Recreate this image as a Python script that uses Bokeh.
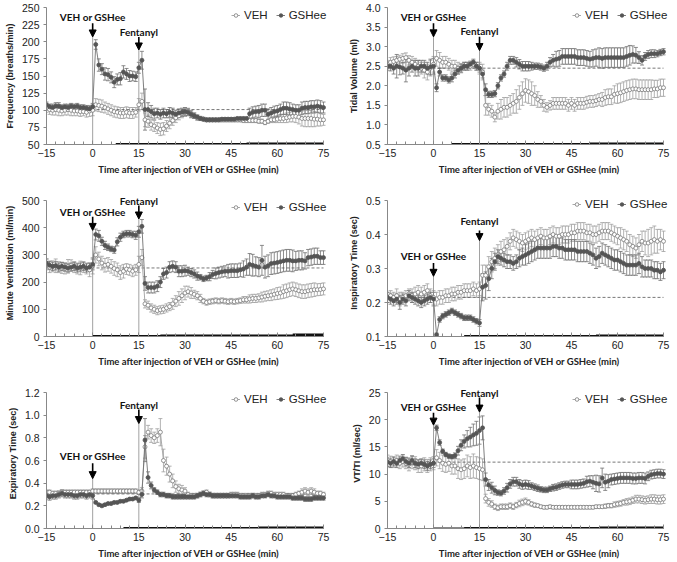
from bokeh.plotting import figure
from bokeh.models import (ColumnDataSource, Whisker, TeeHead, Arrow, NormalHead, Legend,
                          LegendItem, Range1d, FixedTicker, Label)
from bokeh.layouts import column, row
from bokeh.embed import file_html
from bokeh.resources import INLINE

TIME = list(range(-15, 76))
X_TICKS = [-15, 0, 15, 30, 45, 60, 75]
X_LABEL = "Time after injection of VEH or GSHee (min)"

# ---------------- Frequency ----------------
freq_veh = [103, 101, 100, 101, 100, 99, 100, 101, 100, 99, 99, 98, 98, 97, 99,
            100, 108, 107, 106, 104, 102, 100, 98, 97, 96, 96, 97, 96, 96, 97, 108,
            113, 86, 84, 79, 77, 74, 72, 73, 77, 81, 85, 89, 92, 95, 97,
            98, 95, 92, 89, 88, 87, 86, 86, 86, 86, 86, 86, 86, 86, 86,
            86, 86, 86, 85, 85, 85, 85, 85, 84, 84, 82, 84, 86, 86, 87,
            88, 88, 89, 90, 91, 91, 90, 88, 88, 88, 88, 87, 87, 86, 86]
freq_veh_err = [6, 7, 7, 8, 8, 7, 7, 8, 8, 7, 7, 7, 6, 7, 8,
                8, 9, 9, 9, 8, 8, 8, 8, 8, 8, 8, 8, 8, 8, 7, 9,
                12, 10, 9, 8, 8, 8, 9, 9, 8, 8, 7, 7, 6, 6, 6,
                5, 5, 4, 4, 3, 3, 3, 3, 3, 3, 3, 3, 3, 3, 3,
                3, 3, 3, 3, 3, 3, 3, 3, 3, 3, 3, 3, 4, 4, 5,
                6, 6, 7, 7, 8, 9, 10, 11, 12, 12, 12, 11, 10, 9, 8]
freq_gsh = [108, 105, 104, 106, 106, 104, 105, 104, 106, 105, 106, 104, 104, 103, 102,
            105, 196, 166, 160, 153, 152, 148, 141, 145, 146, 156, 153, 150, 150, 149, 162,
            173, 101, 101, 98, 95, 96, 94, 96, 95, 97, 96, 94, 96, 97, 98,
            97, 94, 92, 90, 88, 87, 86, 86, 86, 86, 86, 87, 87, 87, 87,
            87, 88, 88, 88, 88, 95, 97, 98, 98, 100, 100, 94, 96, 98, 99,
            101, 103, 103, 102, 101, 100, 100, 103, 104, 104, 105, 105, 106, 105, 104]
freq_gsh_err = [4, 4, 5, 5, 5, 4, 4, 4, 4, 4, 4, 4, 4, 4, 4,
                5, 7, 9, 8, 9, 9, 8, 8, 8, 9, 9, 8, 8, 7, 7, 8,
                13, 30, 10, 9, 8, 7, 7, 7, 6, 7, 7, 6, 6, 6, 6,
                5, 5, 4, 3, 3, 2, 2, 2, 2, 2, 2, 2, 2, 2, 2,
                2, 2, 2, 2, 2, 8, 8, 8, 9, 9, 9, 8, 8, 8, 8,
                8, 9, 9, 9, 8, 8, 8, 9, 9, 9, 9, 9, 9, 9, 8]

# ---------------- Tidal volume ----------------
tv_veh = [2.55, 2.6, 2.62, 2.65, 2.68, 2.7, 2.72, 2.65, 2.6, 2.55, 2.5, 2.45, 2.4, 2.35, 2.45,
          2.55, 2.7, 2.65, 2.6, 2.6, 2.55, 2.5, 2.5, 2.45, 2.45, 2.5, 2.5, 2.5, 2.55, 2.5, 2.45,
          2.35, 1.5, 1.4, 1.35, 1.2, 1.35, 1.4, 1.45, 1.45, 1.5, 1.55, 1.6, 1.7, 1.8, 1.88,
          1.85, 1.8, 1.75, 1.65, 1.6, 1.5, 1.45, 1.5, 1.55, 1.55, 1.55, 1.55, 1.55, 1.5, 1.55,
          1.5, 1.55, 1.55, 1.55, 1.58, 1.6, 1.6, 1.62, 1.65, 1.65, 1.7, 1.72, 1.72, 1.78, 1.8,
          1.82, 1.85, 1.88, 1.9, 1.92, 1.92, 1.9, 1.9, 1.9, 1.9, 1.9, 1.92, 1.92, 1.95, 1.95]
tv_veh_err = [0.1, 0.12, 0.12, 0.1, 0.1, 0.12, 0.12, 0.12, 0.15, 0.15, 0.15, 0.15, 0.2, 0.2, 0.2,
              0.2, 0.2, 0.2, 0.15, 0.15, 0.15, 0.15, 0.15, 0.15, 0.12, 0.1, 0.1, 0.1, 0.1, 0.1, 0.15,
              0.2, 0.25, 0.15, 0.15, 0.12, 0.2, 0.25, 0.25, 0.25, 0.25, 0.25, 0.3, 0.3, 0.3, 0.3,
              0.3, 0.3, 0.25, 0.2, 0.15, 0.15, 0.12, 0.12, 0.15, 0.15, 0.15, 0.15, 0.15, 0.15, 0.15,
              0.15, 0.15, 0.15, 0.15, 0.15, 0.15, 0.15, 0.15, 0.15, 0.18, 0.2, 0.2, 0.2, 0.22, 0.25,
              0.25, 0.25, 0.25, 0.25, 0.25, 0.25, 0.25, 0.25, 0.25, 0.25, 0.25, 0.22, 0.22, 0.22, 0.22]
tv_gsh = [2.5, 2.5, 2.45, 2.5, 2.48, 2.45, 2.4, 2.45, 2.5, 2.45, 2.45, 2.5, 2.5, 2.45, 2.48,
          2.5, 1.95, 2.35, 2.2, 2.2, 2.15, 2.2, 2.3, 2.4, 2.45, 2.5, 2.5, 2.55, 2.6, 2.5, 2.45,
          2.3, 1.9, 1.78, 1.78, 1.8, 2.0, 2.2, 2.3, 2.5, 2.65, 2.65, 2.6, 2.55, 2.5, 2.5,
          2.5, 2.5, 2.5, 2.5, 2.48, 2.45, 2.5, 2.6, 2.65, 2.68, 2.7, 2.75, 2.75, 2.75, 2.75,
          2.75, 2.72, 2.72, 2.72, 2.7, 2.68, 2.7, 2.72, 2.72, 2.7, 2.72, 2.72, 2.72, 2.72, 2.72,
          2.72, 2.72, 2.75, 2.78, 2.8, 2.78, 2.72, 2.65, 2.75, 2.8, 2.82, 2.82, 2.82, 2.85, 2.87]
tv_gsh_err = [0.1, 0.12, 0.15, 0.3, 0.2, 0.15, 0.3, 0.2, 0.15, 0.2, 0.2, 0.15, 0.15, 0.15, 0.2,
              0.2, 0.1, 0.1, 0.08, 0.08, 0.08, 0.1, 0.1, 0.1, 0.1, 0.1, 0.1, 0.08, 0.08, 0.1, 0.1,
              0.1, 0.15, 0.08, 0.08, 0.08, 0.08, 0.08, 0.08, 0.1, 0.1, 0.1, 0.12, 0.12, 0.12, 0.12,
              0.12, 0.1, 0.08, 0.08, 0.08, 0.08, 0.1, 0.12, 0.15, 0.2, 0.2, 0.2, 0.2, 0.2, 0.2,
              0.2, 0.2, 0.2, 0.2, 0.2, 0.2, 0.22, 0.22, 0.25, 0.25, 0.25, 0.25, 0.25, 0.25, 0.25,
              0.25, 0.25, 0.25, 0.25, 0.22, 0.2, 0.15, 0.12, 0.1, 0.1, 0.1, 0.1, 0.08, 0.08, 0.08]

# ---------------- Minute ventilation ----------------
mv_veh = [265, 255, 258, 260, 255, 252, 250, 258, 262, 255, 250, 252, 255, 250, 245,
          260, 300, 285, 270, 262, 265, 258, 250, 245, 235, 240, 248, 245, 240, 245, 265,
          290, 120, 115, 105, 100, 95, 98, 100, 105, 110, 120, 130, 140, 150, 160,
          165, 160, 155, 150, 140, 130, 125, 128, 130, 132, 130, 132, 130, 128, 130,
          128, 130, 132, 135, 135, 138, 140, 140, 142, 145, 148, 150, 152, 155, 158,
          160, 165, 168, 172, 175, 172, 168, 165, 165, 168, 170, 172, 172, 173, 175]
mv_veh_err = [20, 20, 20, 25, 20, 20, 20, 25, 20, 20, 20, 25, 20, 20, 25,
              30, 30, 25, 25, 25, 25, 25, 25, 25, 25, 25, 20, 20, 20, 20, 30,
              30, 15, 15, 15, 15, 15, 15, 15, 15, 15, 20, 20, 25, 25, 25,
              20, 20, 15, 15, 15, 10, 10, 10, 10, 10, 10, 10, 10, 10, 10,
              10, 10, 10, 12, 12, 15, 15, 15, 15, 18, 18, 18, 20, 20, 22,
              22, 25, 25, 25, 25, 25, 25, 25, 25, 25, 25, 25, 22, 22, 22]
mv_gsh = [270, 262, 258, 260, 255, 258, 255, 252, 255, 258, 252, 255, 258, 252, 255,
          265, 375, 370, 350, 335, 328, 322, 318, 348, 365, 375, 378, 378, 375, 372, 385,
          405, 195, 180, 180, 180, 185, 200, 230, 235, 255, 258, 255, 240, 240, 242,
          240, 235, 230, 222, 218, 212, 215, 220, 228, 232, 235, 238, 240, 240, 242,
          242, 242, 245, 248, 255, 265, 262, 258, 255, 280, 255, 260, 268, 270, 272,
          275, 278, 280, 280, 278, 278, 280, 280, 278, 290, 292, 295, 295, 290, 290]
mv_gsh_err = [15, 15, 15, 15, 15, 15, 15, 15, 15, 15, 15, 15, 15, 15, 15,
              20, 20, 20, 15, 15, 12, 10, 12, 15, 15, 12, 12, 12, 12, 15, 20,
              25, 25, 20, 20, 20, 20, 20, 20, 20, 20, 20, 20, 20, 20, 20,
              15, 15, 15, 15, 10, 10, 10, 15, 15, 20, 20, 20, 20, 25, 25,
              25, 25, 25, 30, 30, 40, 40, 35, 35, 55, 40, 40, 40, 40, 40,
              40, 40, 40, 40, 40, 35, 35, 35, 30, 30, 30, 30, 30, 25, 25]

# ---------------- Inspiratory time ----------------
ti_veh = [0.215, 0.22, 0.215, 0.22, 0.21, 0.215, 0.22, 0.225, 0.22, 0.225, 0.23, 0.225, 0.23, 0.235, 0.22,
          0.215, 0.21, 0.215, 0.215, 0.22, 0.22, 0.225, 0.225, 0.23, 0.23, 0.235, 0.235, 0.235, 0.24, 0.235, 0.24,
          0.28, 0.28, 0.305, 0.32, 0.33, 0.34, 0.35, 0.355, 0.365, 0.38, 0.39, 0.385, 0.38, 0.375, 0.38,
          0.385, 0.39, 0.385, 0.39, 0.395, 0.39, 0.39, 0.395, 0.4, 0.395, 0.395, 0.4, 0.4, 0.4, 0.405,
          0.405, 0.41, 0.41, 0.41, 0.405, 0.405, 0.4, 0.4, 0.405, 0.41, 0.41, 0.41, 0.405, 0.4, 0.395,
          0.39, 0.385, 0.38, 0.37, 0.365, 0.36, 0.37, 0.38, 0.375, 0.375, 0.38, 0.385, 0.38, 0.385, 0.38]
ti_veh_err = [0.015, 0.015, 0.015, 0.02, 0.02, 0.015, 0.015, 0.015, 0.02, 0.02, 0.02, 0.02, 0.02, 0.02, 0.02,
              0.02, 0.02, 0.02, 0.02, 0.02, 0.02, 0.02, 0.02, 0.02, 0.02, 0.02, 0.02, 0.02, 0.02, 0.02, 0.02,
              0.03, 0.03, 0.03, 0.03, 0.03, 0.03, 0.03, 0.03, 0.025, 0.025, 0.025, 0.025, 0.025, 0.025, 0.025,
              0.025, 0.025, 0.025, 0.025, 0.025, 0.025, 0.025, 0.025, 0.025, 0.025, 0.025, 0.025, 0.025, 0.025, 0.025,
              0.025, 0.025, 0.025, 0.025, 0.025, 0.025, 0.025, 0.025, 0.025, 0.025, 0.025, 0.025, 0.025, 0.025, 0.025,
              0.03, 0.03, 0.03, 0.03, 0.03, 0.03, 0.03, 0.03, 0.035, 0.04, 0.04, 0.04, 0.035, 0.03, 0.03]
ti_gsh = [0.215, 0.21, 0.205, 0.21, 0.2, 0.21, 0.205, 0.22, 0.215, 0.21, 0.205, 0.2, 0.205, 0.21, 0.215,
          0.21, 0.105, 0.15, 0.16, 0.165, 0.17, 0.175, 0.17, 0.165, 0.16, 0.155, 0.155, 0.155, 0.15, 0.145, 0.14,
          0.245, 0.25, 0.27, 0.3, 0.32, 0.335, 0.33, 0.325, 0.32, 0.32, 0.315, 0.32, 0.33, 0.335, 0.34,
          0.345, 0.35, 0.355, 0.36, 0.36, 0.36, 0.36, 0.36, 0.365, 0.365, 0.36, 0.36, 0.355, 0.355, 0.355,
          0.355, 0.35, 0.35, 0.35, 0.35, 0.345, 0.34, 0.33, 0.335, 0.345, 0.34, 0.335, 0.33, 0.325, 0.325,
          0.32, 0.315, 0.31, 0.31, 0.31, 0.31, 0.315, 0.305, 0.3, 0.3, 0.3, 0.295, 0.295, 0.29, 0.295]
ti_gsh_err = [0.015, 0.015, 0.015, 0.015, 0.02, 0.015, 0.015, 0.015, 0.015, 0.015, 0.015, 0.015, 0.015, 0.015, 0.015,
              0.02, 0.005, 0.008, 0.008, 0.008, 0.008, 0.008, 0.008, 0.008, 0.008, 0.008, 0.008, 0.008, 0.008, 0.008, 0.01,
              0.04, 0.04, 0.035, 0.03, 0.025, 0.02, 0.02, 0.02, 0.02, 0.02, 0.02, 0.02, 0.025, 0.025, 0.03,
              0.03, 0.03, 0.03, 0.03, 0.03, 0.03, 0.03, 0.03, 0.03, 0.03, 0.03, 0.03, 0.03, 0.03, 0.03,
              0.03, 0.03, 0.03, 0.03, 0.03, 0.03, 0.03, 0.03, 0.03, 0.03, 0.03, 0.03, 0.03, 0.03, 0.03,
              0.03, 0.03, 0.03, 0.03, 0.03, 0.03, 0.03, 0.03, 0.025, 0.025, 0.025, 0.025, 0.025, 0.025, 0.025]

# ---------------- Expiratory time ----------------
te_veh = [0.32, 0.32, 0.31, 0.31, 0.31, 0.32, 0.32, 0.32, 0.32, 0.32, 0.32, 0.32, 0.32, 0.32, 0.32,
          0.33, 0.33, 0.33, 0.33, 0.33, 0.33, 0.33, 0.33, 0.33, 0.33, 0.33, 0.33, 0.33, 0.33, 0.33, 0.32,
          0.33, 0.72, 0.85, 0.82, 0.8, 0.82, 0.85, 0.6, 0.55, 0.48, 0.42, 0.37, 0.35, 0.34, 0.33,
          0.3, 0.29, 0.29, 0.29, 0.3, 0.31, 0.32, 0.3, 0.29, 0.29, 0.29, 0.29, 0.29, 0.29, 0.3,
          0.3, 0.3, 0.29, 0.29, 0.29, 0.29, 0.29, 0.29, 0.29, 0.3, 0.3, 0.31, 0.31, 0.3, 0.3,
          0.3, 0.3, 0.29, 0.29, 0.29, 0.3, 0.31, 0.32, 0.33, 0.32, 0.33, 0.32, 0.31, 0.31, 0.3]
te_veh_err = [0.02, 0.02, 0.02, 0.02, 0.02, 0.02, 0.02, 0.02, 0.02, 0.02, 0.02, 0.02, 0.02, 0.02, 0.02,
              0.02, 0.02, 0.02, 0.02, 0.02, 0.02, 0.02, 0.02, 0.02, 0.02, 0.02, 0.02, 0.02, 0.02, 0.02, 0.02,
              0.03, 0.1, 0.06, 0.06, 0.05, 0.06, 0.12, 0.1, 0.08, 0.07, 0.06, 0.05, 0.04, 0.04, 0.03,
              0.02, 0.02, 0.02, 0.02, 0.02, 0.02, 0.02, 0.02, 0.02, 0.02, 0.02, 0.02, 0.02, 0.02, 0.02,
              0.02, 0.02, 0.02, 0.02, 0.02, 0.02, 0.02, 0.02, 0.02, 0.02, 0.02, 0.02, 0.02, 0.02, 0.02,
              0.02, 0.02, 0.02, 0.02, 0.02, 0.02, 0.02, 0.03, 0.03, 0.03, 0.03, 0.03, 0.02, 0.02, 0.02]
te_gsh = [0.29, 0.28, 0.29, 0.29, 0.3, 0.31, 0.3, 0.3, 0.3, 0.29, 0.29, 0.3, 0.3, 0.29, 0.3,
          0.29, 0.23, 0.21, 0.2, 0.21, 0.22, 0.22, 0.23, 0.23, 0.24, 0.24, 0.25, 0.26, 0.26, 0.27, 0.25,
          0.3, 0.78, 0.45, 0.38, 0.34, 0.32, 0.3, 0.3, 0.29, 0.29, 0.28, 0.28, 0.28, 0.28, 0.28,
          0.28, 0.28, 0.28, 0.29, 0.3, 0.31, 0.3, 0.3, 0.29, 0.29, 0.29, 0.29, 0.29, 0.29, 0.29,
          0.29, 0.29, 0.28, 0.28, 0.28, 0.28, 0.29, 0.28, 0.28, 0.29, 0.29, 0.3, 0.29, 0.29, 0.28,
          0.28, 0.28, 0.28, 0.28, 0.27, 0.27, 0.27, 0.27, 0.26, 0.26, 0.26, 0.27, 0.27, 0.27, 0.27]
te_gsh_err = [0.03, 0.03, 0.03, 0.03, 0.03, 0.03, 0.03, 0.03, 0.03, 0.03, 0.03, 0.03, 0.03, 0.03, 0.03,
              0.03, 0.01, 0.01, 0.01, 0.01, 0.01, 0.01, 0.01, 0.01, 0.01, 0.01, 0.01, 0.01, 0.01, 0.01, 0.02,
              0.03, 0.19, 0.05, 0.03, 0.02, 0.02, 0.02, 0.02, 0.02, 0.02, 0.02, 0.02, 0.02, 0.02, 0.02,
              0.02, 0.02, 0.02, 0.02, 0.02, 0.02, 0.02, 0.02, 0.02, 0.02, 0.02, 0.02, 0.02, 0.02, 0.02,
              0.02, 0.02, 0.02, 0.02, 0.02, 0.02, 0.02, 0.02, 0.02, 0.02, 0.02, 0.02, 0.02, 0.02, 0.02,
              0.02, 0.02, 0.02, 0.02, 0.02, 0.02, 0.02, 0.02, 0.02, 0.02, 0.02, 0.02, 0.02, 0.02, 0.02]

# ---------------- VT/TI ----------------
vt_veh = [12.5, 12.3, 12.2, 12.5, 12.0, 12.3, 12.0, 11.8, 12.2, 12.0, 11.5, 11.5, 11.8, 11.5, 11.8,
          12.0, 13.0, 12.5, 12.0, 11.8, 12.0, 11.5, 11.5, 11.0, 10.8, 11.0, 11.5, 11.2, 11.5, 11.2, 11.0,
          10.8, 5.5, 4.8, 4.5, 4.0, 3.8, 4.0, 4.0, 4.0, 4.2, 4.0, 4.3, 4.6, 4.8, 5.0,
          4.8, 4.5, 4.3, 4.2, 4.0, 3.9, 3.9, 4.0, 3.9, 3.9, 3.9, 3.9, 3.9, 3.9, 3.9,
          3.9, 3.9, 3.9, 3.9, 3.9, 3.9, 3.9, 4.0, 4.0, 4.0, 4.1, 4.2, 4.2, 4.4, 4.5,
          4.6, 4.8, 4.9, 5.0, 5.2, 5.4, 5.4, 5.3, 5.2, 5.3, 5.4, 5.4, 5.3, 5.3, 5.4]
vt_veh_err = [1.0, 1.0, 1.0, 1.0, 1.0, 1.0, 1.0, 1.2, 1.2, 1.2, 1.2, 1.2, 1.2, 1.2, 1.2,
              1.2, 1.5, 1.5, 1.5, 1.5, 1.5, 1.5, 1.5, 1.8, 1.8, 1.8, 2.0, 2.0, 2.2, 2.0, 2.0,
              2.0, 0.8, 0.7, 0.6, 0.5, 0.5, 0.5, 0.5, 0.5, 0.5, 0.5, 0.5, 0.6, 0.6, 0.6,
              0.5, 0.4, 0.4, 0.3, 0.3, 0.3, 0.3, 0.3, 0.3, 0.3, 0.3, 0.3, 0.3, 0.3, 0.3,
              0.3, 0.3, 0.3, 0.3, 0.3, 0.3, 0.3, 0.3, 0.3, 0.3, 0.4, 0.4, 0.4, 0.5, 0.5,
              0.5, 0.5, 0.6, 0.6, 0.6, 0.7, 0.7, 0.7, 0.7, 0.7, 0.8, 0.8, 0.8, 0.8, 0.8]
vt_gsh = [12.2, 12.0, 12.3, 12.0, 12.5, 12.8, 12.3, 12.0, 12.5, 12.0, 11.8, 12.0, 11.8, 11.5, 11.8,
          12.0, 18.5, 15.8, 14.2, 13.6, 13.3, 13.2, 13.4, 14.3, 15.3, 16.0, 16.5, 16.8, 17.2, 17.5, 18.0,
          18.5, 9.0, 8.0, 7.5, 7.0, 6.6, 6.5, 6.9, 7.5, 8.2, 8.6, 8.6, 8.2, 8.0, 8.1,
          8.0, 7.8, 7.6, 7.4, 7.2, 7.1, 7.1, 7.3, 7.5, 7.6, 7.8, 8.0, 8.1, 8.1, 8.1,
          8.1, 8.1, 8.2, 8.3, 8.6, 8.7, 8.5, 8.3, 8.2, 9.3, 8.5, 8.7, 9.0, 9.1, 9.2,
          9.3, 9.3, 9.3, 9.3, 9.2, 9.2, 9.3, 9.3, 9.2, 9.6, 9.9, 10.0, 10.1, 10.1, 10.0]
vt_gsh_err = [0.8, 0.8, 0.8, 0.8, 0.8, 0.8, 0.8, 0.8, 0.8, 0.8, 0.8, 0.8, 0.8, 0.8, 0.8,
              0.8, 0.5, 0.5, 0.4, 0.4, 0.4, 0.4, 0.5, 0.8, 1.0, 1.2, 1.5, 1.8, 2.0, 2.2, 2.5,
              2.2, 1.2, 1.0, 1.0, 0.8, 0.5, 0.5, 0.6, 0.8, 0.8, 0.8, 0.8, 0.8, 0.8, 0.8,
              0.8, 0.6, 0.6, 0.6, 0.5, 0.5, 0.5, 0.5, 0.6, 0.6, 0.6, 0.6, 0.6, 0.6, 0.8,
              0.8, 0.8, 0.8, 0.8, 1.0, 1.0, 1.2, 1.5, 1.5, 1.8, 1.5, 1.2, 1.0, 1.0, 1.0,
              1.0, 1.0, 1.0, 1.0, 1.0, 1.0, 1.0, 1.0, 1.0, 0.8, 0.8, 0.8, 0.8, 0.8, 0.8]

# baselines (dashed) and significance bars along the time axis (start, end, visible px)
BASELINES = [101, 2.45, 252, 0.215, 0.305, 12.2]
SIG_BARS = [
    [(7.5, 75, 1.5), (50, 75, 2.0)],
    [(6, 75, 1.5), (51, 75, 2.0)],
    [(0, 75, 1.5), (22, 75, 2.0), (65, 75, 3.0)],
    [(10, 75, 1.5), (53, 75, 2.0)],
    [(10, 75, 1.5), (54, 75, 2.0)],
    [(0, 75, 1.0), (10, 75, 1.5), (54, 75, 2.0)],
]

PANELS = [
    dict(title="Frequency (breaths/min)", veh=freq_veh, veh_err=freq_veh_err, gsh=freq_gsh, gsh_err=freq_gsh_err,
         yr=(50, 250), yticks=[50, 75, 100, 125, 150, 175, 200, 225, 250],
         ylabels=["50", "75", "100", "125", "150", "175", "200", "225", "250"],
         veh_txt=236, veh_arrow=(227, 207), fen_txt=214, fen_arrow=(207, 188), leg_dy=8),
    dict(title="Tidal Volume (ml)", veh=tv_veh, veh_err=tv_veh_err, gsh=tv_gsh, gsh_err=tv_gsh_err,
         yr=(0.5, 4.0), yticks=[0.5, 1.0, 1.5, 2.0, 2.5, 3.0, 3.5, 4.0],
         ylabels=["0.5", "1.0", "1.5", "2.0", "2.5", "3.0", "3.5", "4.0"],
         veh_txt=3.76, veh_arrow=(3.6, 3.25), fen_txt=3.39, fen_arrow=(3.25, 2.9), leg_dy=8),
    dict(title="Minute Ventilation (ml/min)", veh=mv_veh, veh_err=mv_veh_err, gsh=mv_gsh, gsh_err=mv_gsh_err,
         yr=(0, 500), yticks=[0, 100, 200, 300, 400, 500],
         ylabels=["0", "100", "200", "300", "400", "500"],
         veh_txt=457, veh_arrow=(440, 390), fen_txt=500, fen_arrow=(482, 432), leg_dy=7),
    dict(title="Inspiratory Time (sec)", veh=ti_veh, veh_err=ti_veh_err, gsh=ti_gsh, gsh_err=ti_gsh_err,
         yr=(0.1, 0.5), yticks=[0.1, 0.2, 0.3, 0.4, 0.5],
         ylabels=["0.1", "0.2", "0.3", "0.4", "0.5"],
         veh_txt=0.338, veh_arrow=(0.316, 0.277), fen_txt=0.441, fen_arrow=(0.412, 0.382), leg_dy=4),
    dict(title="Expiratory Time (sec)", veh=te_veh, veh_err=te_veh_err, gsh=te_gsh, gsh_err=te_gsh_err,
         yr=(0.0, 1.2), yticks=[0.0, 0.2, 0.4, 0.6, 0.8, 1.0, 1.2],
         ylabels=["0.0", "0.2", "0.4", "0.6", "0.8", "1.0", "1.2"],
         veh_txt=0.638, veh_arrow=(0.575, 0.44), fen_txt=1.088, fen_arrow=(1.05, 0.926), leg_dy=7),
    dict(title="VT/TI (ml/sec)", veh=vt_veh, veh_err=vt_veh_err, gsh=vt_gsh, gsh_err=vt_gsh_err,
         yr=(0, 25), yticks=[0, 5, 10, 15, 20, 25],
         ylabels=["0", "5", "10", "15", "20", "25"],
         veh_txt=22.4, veh_arrow=(21.3, 19.0), fen_txt=25.0, fen_arrow=(24.1, 21.4), leg_dy=7),
]

# layout geometry (page content starts at the top-left corner)
COL_W = [338, 339]
COL_LEFT = [46, 49]
COL_RIGHT = [15, 14]         # pixels from the x=75 position to the figure's right edge
COL_EXT = [8, 8]             # extra frame right of x=75 (room for legend / last markers)
ROW_H = [185, 185, 192]
ROW_TOP = [7, 15, 22]        # pixels from figure top to the axis top value
ROW_BOTTOM = [41, 34, 34]
ROW_EXT = [0, 11, 14]        # extra frame above the axis top (room for labels)
LEG_X = 185

VEH_LINE = "#a0a0a0"
GSH_LINE = "#707070"
TICK_FONT = "Liberation Sans"


def make_panel(i, cfg):
    c, r = i % 2, i // 2
    y0, y1 = cfg["yr"]
    plot_h = ROW_H[r] - ROW_TOP[r] - ROW_BOTTOM[r]
    plot_w = COL_W[c] - COL_LEFT[c] - COL_RIGHT[c]
    ext = ROW_EXT[r]
    xext = COL_EXT[c]
    y_top = y1 + ext * (y1 - y0) / plot_h
    x_end = 75 + xext * 90.0 / plot_w
    frame_h = plot_h + ext
    p = figure(width=COL_W[c], height=ROW_H[r], output_backend="svg", toolbar_location=None,
               x_range=Range1d(-15, x_end), y_range=Range1d(y0, y_top),
               min_border_left=COL_LEFT[c], min_border_right=COL_RIGHT[c] - xext,
               min_border_top=ROW_TOP[r] - ext, min_border_bottom=ROW_BOTTOM[r])
    p.outline_line_color = None
    p.grid.visible = False
    p.background_fill_color = "white"

    xa = p.xaxis[0]
    xa.bounds = (-15, 75)
    xa.ticker = FixedTicker(ticks=X_TICKS, minor_ticks=list(range(-15, 76, 3)))
    xa.major_tick_in, xa.major_tick_out = 4, 0
    xa.minor_tick_in, xa.minor_tick_out = 3, 0
    xa.axis_line_color = "#888888"
    xa.major_tick_line_color = "#888888"
    xa.minor_tick_line_color = "#888888"
    xa.major_label_text_font = TICK_FONT
    xa.major_label_text_font_size = "10.5px"
    xa.major_label_text_color = "#222222"
    xa.major_label_standoff = 4
    xa.axis_label = X_LABEL
    xa.axis_label_text_font = "Lato"
    xa.axis_label_text_font_style = "bold"
    xa.axis_label_text_font_size = "9.5px"
    xa.axis_label_text_color = "#222222"
    xa.axis_label_standoff = 4

    ya = p.yaxis[0]
    ya.bounds = (y0, y1)
    ya.ticker = FixedTicker(ticks=cfg["yticks"], minor_ticks=[])
    ya.major_label_overrides = {t: s for t, s in zip(cfg["yticks"], cfg["ylabels"])}
    ya.major_tick_in, ya.major_tick_out = 0, 3
    ya.minor_tick_line_color = None
    ya.axis_line_color = "#888888"
    ya.major_tick_line_color = "#888888"
    ya.major_label_text_font = TICK_FONT
    ya.major_label_text_font_size = "10.5px"
    ya.major_label_text_color = "#222222"
    ya.major_label_standoff = 4
    ya.axis_label = cfg["title"]
    ya.axis_label_text_font = TICK_FONT
    ya.axis_label_text_font_style = "bold"
    ya.axis_label_text_font_size = "9px"
    ya.axis_label_text_color = "#222222"
    ya.axis_label_standoff = 4

    # dashed baseline
    p.segment(x0=[-15], y0=[BASELINES[i]], x1=[75], y1=[BASELINES[i]], line_dash="3 2",
              line_color="#555555", line_width=0.8)

    # vertical event lines
    p.segment(x0=[0, 15], y0=[y0, y0], x1=[0, 15],
              y1=[cfg["veh_arrow"][1], cfg["fen_arrow"][1]],
              line_color="#8a8a8a", line_width=0.8)

    # significance bars along the axis (half of the line is clipped below the frame)
    for (s, e, w) in SIG_BARS[i]:
        p.segment(x0=[s], y0=[y0], x1=[e], y1=[y0], line_color="#111111", line_width=2 * w)

    renderers = {}
    for key, lc, fill, mlc in (("veh", VEH_LINE, "white", "#7a7a7a"),
                               ("gsh", GSH_LINE, "#555555", "#555555")):
        vals, errs = cfg[key], cfg[key + "_err"]
        src = ColumnDataSource(dict(t=TIME, v=vals,
                                    lo=[v - e for v, e in zip(vals, errs)],
                                    hi=[v + e for v, e in zip(vals, errs)]))
        p.add_layout(Whisker(source=src, base="t", upper="hi", lower="lo", line_color=lc,
                             line_width=0.8, level="underlay",
                             upper_head=TeeHead(size=4, line_color=lc, line_width=0.8),
                             lower_head=TeeHead(size=4, line_color=lc, line_width=0.8)))
        lr = p.line("t", "v", source=src, line_color=lc, line_width=0.9)
        sr = p.scatter("t", "v", source=src, marker="circle", size=4,
                       fill_color=fill, line_color=mlc, line_width=0.8)
        renderers[key] = [lr, sr]

    # event arrows + labels
    for x, txt, ty, (a0, a1) in ((0, "VEH or GSHee", cfg["veh_txt"], cfg["veh_arrow"]),
                                 (15, "Fentanyl", cfg["fen_txt"], cfg["fen_arrow"])):
        p.add_layout(Arrow(end=NormalHead(size=7, fill_color="black", line_color="black"),
                           x_start=x, y_start=a0, x_end=x, y_end=a1,
                           line_color="black", line_width=1.6))
        p.add_layout(Label(x=x, y=ty, text=txt, text_align="center", text_baseline="middle",
                           text_font="Lato", text_font_style="bold", text_font_size="10px",
                           text_color="#111111"))

    # legend: bottom edge given in px from frame bottom
    leg_h = 14
    leg_y = frame_h - ext - cfg["leg_dy"] - leg_h / 2
    legend = Legend(items=[LegendItem(label="VEH", renderers=renderers["veh"]),
                           LegendItem(label="GSHee", renderers=renderers["gsh"])],
                    orientation="horizontal", location=(LEG_X, leg_y),
                    label_text_font=TICK_FONT, label_text_font_size="11.5px",
                    label_text_color="#222222", label_height=14,
                    glyph_width=9, glyph_height=10, label_standoff=4, spacing=8,
                    padding=0, margin=0, border_line_alpha=0, background_fill_alpha=0)
    p.add_layout(legend)
    return p


plots = [make_panel(i, cfg) for i, cfg in enumerate(PANELS)]
layout = column(row(plots[0], plots[1]), row(plots[2], plots[3]), row(plots[4], plots[5]))

open("out.html", "w").write(file_html(layout, INLINE))
